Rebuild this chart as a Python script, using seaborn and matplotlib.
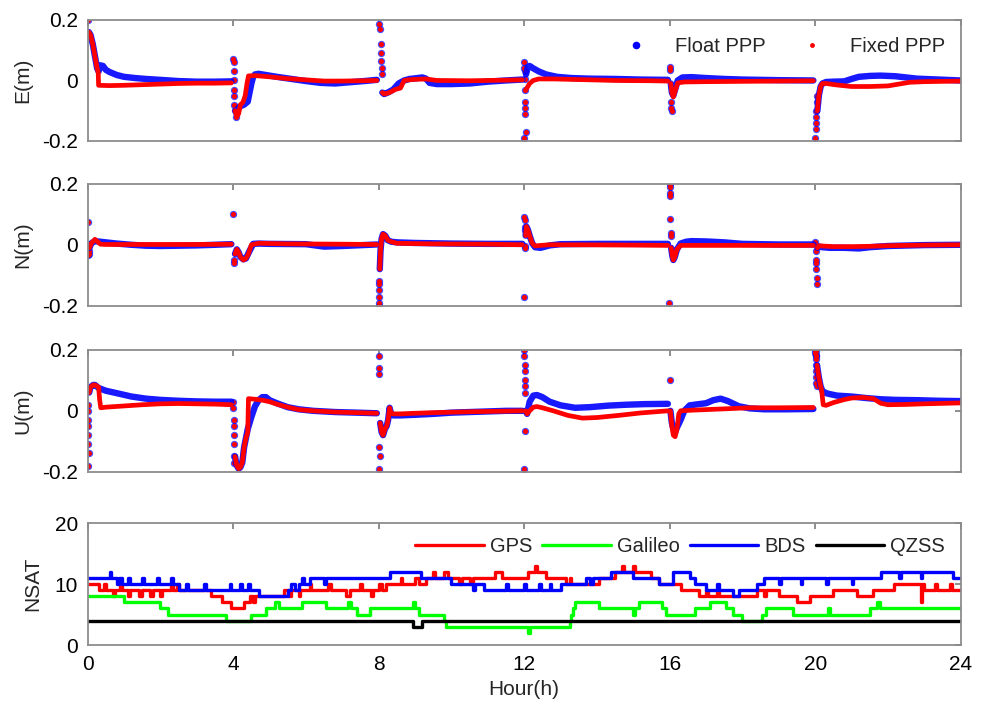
import numpy as np
import pandas as pd
import matplotlib
matplotlib.use("Agg")
import matplotlib.pyplot as plt
from matplotlib.lines import Line2D
import seaborn as sns

# ---------------- positioning errors (m), hours of day ----------------
# East
E_FLOAT_T = [0.03, 0.08, 0.14, 0.2, 0.26, 0.3, 0.35, 0.42, 0.5, 0.6, 0.8, 1.0, 1.3, 1.6, 2.0, 2.5, 3.0, 3.5, 3.95,
             4.05, 4.1, 4.15, 4.2, 4.3, 4.4, 4.45, 4.5, 4.55, 4.6, 4.7, 4.9, 5.2, 5.6, 6.0, 6.4, 6.8, 7.2, 7.6, 7.95,
             8.1, 8.15, 8.25, 8.4, 8.55, 8.7, 8.85, 9.0, 9.2, 9.3, 9.4, 9.6, 10.0, 10.5, 11.0, 11.5, 11.95,
             12.05, 12.1, 12.15, 12.25, 12.4, 12.6, 12.9, 13.3, 13.8, 14.5, 15.2, 15.95,
             16.03, 16.06, 16.1, 16.15, 16.22, 16.35, 16.6, 17.0, 17.5, 18.0, 19.0, 19.95,
             20.06, 20.1, 20.15, 20.2, 20.3, 20.5, 20.8, 21.0, 21.2, 21.5, 21.8, 22.2, 22.5, 22.8, 23.2, 23.6, 24.0]
E_FLOAT_V = [0.16, 0.15, 0.12, 0.08, 0.04, 0.03, 0.05, 0.048, 0.035, 0.028, 0.018, 0.012, 0.008, 0.005, 0.002, -0.002, -0.004, -0.004, -0.003,
             -0.1, -0.11, -0.09, -0.085, -0.08, -0.07, -0.04, -0.01, 0.012, 0.02, 0.022, 0.018, 0.012, 0.005, -0.002, -0.008, -0.01, -0.006, -0.002, 0.002,
             -0.04, -0.045, -0.04, -0.03, -0.01, 0.0, 0.005, 0.007, 0.01, 0.006, -0.008, -0.012, -0.012, -0.01, -0.004, 0.0, 0.003,
             0.02, 0.045, 0.048, 0.04, 0.03, 0.02, 0.012, 0.008, 0.006, 0.005, 0.003, 0.002,
             -0.01, -0.04, -0.05, -0.03, 0.0, 0.01, 0.011, 0.008, 0.005, 0.003, 0.001, 0.0,
             -0.1, -0.05, -0.02, -0.01, -0.005, -0.004, -0.003, 0.005, 0.012, 0.015, 0.016, 0.014, 0.01, 0.006, 0.004, 0.002, 0.0]
E_FIXED_T = [0.03, 0.08, 0.14, 0.2, 0.26, 0.29, 0.3, 0.6, 1.0, 1.5, 2.0, 2.5, 3.0, 3.5, 3.95,
             4.05, 4.1, 4.15, 4.2, 4.27, 4.33, 4.38, 4.42, 4.6, 5.0, 5.5, 6.0, 6.5, 7.0, 7.5, 7.95,
             8.1, 8.15, 8.3, 8.45, 8.6, 8.7, 8.9, 9.3, 9.6, 10.5, 11.0, 11.95,
             12.05, 12.1, 12.15, 12.25, 12.4, 12.8, 13.5, 14.5, 15.5, 15.95,
             16.03, 16.06, 16.1, 16.15, 16.22, 16.4, 17.0, 18.0, 19.0, 19.95,
             20.06, 20.1, 20.15, 20.2, 20.3, 20.6, 21.0, 21.5, 22.0, 22.3, 22.6, 23.0, 23.5, 24.0]
E_FIXED_V = [0.16, 0.15, 0.12, 0.08, 0.04, 0.025, -0.016, -0.017, -0.016, -0.014, -0.012, -0.01, -0.009, -0.009, -0.008,
             -0.1, -0.12, -0.11, -0.08, -0.072, -0.05, -0.01, 0.015, 0.016, 0.012, 0.006, 0.002, -0.002, -0.002, -0.001, 0.0,
             -0.04, -0.045, -0.04, -0.03, -0.025, 0.0, 0.003, 0.005, 0.0, -0.001, 0.0, 0.002,
             -0.03, -0.02, -0.01, 0.0, 0.005, 0.005, 0.003, 0.0, -0.001, -0.002,
             -0.01, -0.04, -0.055, -0.035, -0.008, -0.005, -0.004, -0.003, -0.002, -0.001,
             -0.1, -0.05, -0.02, -0.01, -0.01, -0.015, -0.02, -0.02, -0.018, -0.012, -0.006, -0.004, -0.003, -0.002]
E_SPIKE_T = [0.0, 4.0, 4.01, 4.01, 4.02, 4.02, 4.03, 4.03, 4.08,
             8.0, 8.03, 8.05, 8.05, 8.06, 8.08, 8.09,
             11.99, 12.0, 12.01, 12.01, 12.02, 12.02, 12.03, 12.03, 12.04, 12.0,
             16.01, 16.02, 16.03, 16.04, 16.05,
             20.0, 20.01, 20.02, 20.03, 20.03, 20.04, 20.05]
E_SPIKE_V = [0.2, 0.07, 0.06, 0.03, 0.0, -0.03, -0.05, -0.08, -0.12,
             0.185, 0.17, 0.12, 0.09, 0.065, 0.04, 0.02,
             0.06, 0.04, 0.03, 0.005, -0.03, -0.07, -0.09, -0.11, -0.17, -0.19,
             0.045, 0.035, -0.07, -0.09, -0.1,
             -0.19, -0.16, -0.14, -0.12, -0.1, -0.07, -0.05]

# North
N_FLOAT_T = [0.05, 0.1, 0.2, 0.35, 0.5, 0.8, 1.2, 1.6, 2.0, 2.5, 3.0, 3.5, 3.95,
             4.05, 4.1, 4.15, 4.2, 4.28, 4.35, 4.45, 4.55, 4.7, 5.0, 6.0, 6.5, 7.0, 7.95,
             8.03, 8.05, 8.08, 8.12, 8.18, 8.25, 8.35, 8.5, 9.0, 10.0, 11.0, 11.95,
             12.04, 12.06, 12.1, 12.15, 12.22, 12.3, 12.45, 12.7, 13.0, 14.0, 15.0, 15.95,
             16.04, 16.07, 16.1, 16.14, 16.2, 16.3, 16.45, 16.6, 17.0, 17.5, 18.0, 19.0, 19.95,
             20.06, 20.1, 20.2, 20.4, 20.8, 21.2, 21.5, 22.0, 23.0, 24.0]
N_FLOAT_V = [-0.01, 0.005, 0.012, 0.01, 0.008, 0.004, 0.0, -0.003, -0.004, -0.003, -0.002, 0.0, 0.002,
             -0.03, -0.015, -0.025, -0.04, -0.048, -0.045, -0.02, 0.003, 0.004, 0.003, 0.002, -0.006, -0.004, 0.001,
             -0.08, -0.02, 0.02, 0.035, 0.03, 0.015, 0.01, 0.008, 0.006, 0.004, 0.003, 0.003,
             0.03, 0.06, 0.05, 0.03, 0.005, -0.008, -0.01, -0.002, 0.002, 0.003, 0.003, 0.003,
             -0.01, -0.035, -0.05, -0.04, -0.015, 0.004, 0.01, 0.012, 0.011, 0.008, 0.003, 0.001, 0.001,
             -0.01, -0.006, -0.008, -0.01, -0.01, -0.012, -0.008, -0.004, -0.001, 0.0]
N_FIXED_T = [0.05, 0.1, 0.2, 0.35, 0.5, 1.0, 2.0, 3.0, 3.95,
             4.05, 4.1, 4.15, 4.2, 4.28, 4.35, 4.42, 4.5, 4.7, 5.5, 7.0, 7.95,
             8.03, 8.05, 8.08, 8.12, 8.18, 8.25, 8.35, 8.5, 9.5, 11.0, 11.95,
             12.04, 12.06, 12.1, 12.15, 12.22, 12.3, 12.45, 12.7, 13.5, 15.0, 15.95,
             16.04, 16.07, 16.1, 16.14, 16.2, 16.3, 16.6, 17.5, 18.5, 19.95,
             20.06, 20.1, 20.2, 20.5, 21.0, 21.5, 22.0, 23.0, 24.0]
N_FIXED_V = [-0.01, 0.005, 0.018, 0.002, 0.001, 0.001, 0.001, 0.001, 0.002,
             -0.03, -0.015, -0.025, -0.04, -0.05, -0.045, -0.03, 0.0, 0.005, 0.003, 0.002, 0.001,
             -0.08, -0.02, 0.02, 0.035, 0.03, 0.015, 0.01, 0.005, 0.003, 0.002, 0.0,
             0.03, 0.06, 0.05, 0.03, 0.005, -0.004, -0.002, 0.0, 0.0, -0.001, -0.002,
             -0.01, -0.035, -0.05, -0.04, -0.015, -0.002, -0.002, -0.002, -0.002, -0.002,
             -0.01, -0.003, -0.004, -0.006, -0.006, -0.005, -0.003, -0.001, 0.0]
N_SPIKE_T = [0.0, 0.02, 0.03, 0.04,
             4.0, 4.02, 4.03,
             8.0, 8.0, 8.01, 8.01, 8.02, 8.02,
             12.0, 12.01, 12.02, 12.03, 12.02, 12.03, 12.0,
             16.0, 16.0, 16.01, 16.02, 16.02, 16.03, 16.03, 15.99,
             20.0, 20.01, 20.02, 20.02, 20.03, 20.04, 20.05]
N_SPIKE_V = [0.075, -0.035, -0.03, -0.02,
             0.1, -0.06, -0.05,
             -0.2, -0.19, -0.17, -0.15, -0.13, -0.12,
             0.09, 0.08, 0.06, 0.05, -0.01, -0.005, -0.17,
             0.2, 0.19, 0.17, 0.16, 0.085, 0.04, 0.03, -0.19,
             0.01, -0.02, -0.05, -0.06, -0.08, -0.11, -0.13]

# Up
U_FLOAT_T = [0.04, 0.07, 0.1, 0.15, 0.2, 0.3, 0.5, 0.8, 1.2, 1.6, 2.0, 2.5, 3.0, 3.5, 3.95,
             4.05, 4.1, 4.15, 4.2, 4.25, 4.3, 4.4, 4.5, 4.6, 4.7, 4.8, 4.9, 5.0, 5.2, 5.5, 5.8, 6.2, 6.8, 7.4, 7.95,
             8.04, 8.08, 8.12, 8.17, 8.22, 8.26, 8.3, 8.34, 8.4, 8.6, 9.0, 9.5, 10.0, 10.5, 11.0, 11.5, 11.95,
             12.04, 12.08, 12.15, 12.25, 12.35, 12.5, 12.7, 13.0, 13.4, 13.8, 14.3, 14.8, 15.3, 15.95,
             16.02, 16.06, 16.1, 16.15, 16.2, 16.3, 16.4, 16.55, 16.8, 17.0, 17.2, 17.4, 17.6, 17.9, 18.2, 18.6, 19.2, 19.95,
             20.05, 20.1, 20.15, 20.2, 20.3, 20.4, 20.6, 21.0, 21.4, 21.8, 22.2, 22.8, 23.4, 24.0]
U_FLOAT_V = [0.06, 0.075, 0.08, 0.085, 0.085, 0.075, 0.066, 0.058, 0.047, 0.04, 0.036, 0.033, 0.031, 0.03, 0.03,
             -0.15, -0.18, -0.19, -0.185, -0.17, -0.12, -0.06, -0.02, 0.015, 0.035, 0.045, 0.045, 0.035, 0.025, 0.012, 0.005, 0.0, -0.004, -0.006, -0.008,
             -0.04, -0.07, -0.08, -0.06, -0.05, -0.03, 0.01, -0.01, -0.015, -0.015, -0.013, -0.01, -0.006, -0.004, -0.002, 0.0, 0.0,
             0.0, -0.01, 0.03, 0.05, 0.052, 0.045, 0.03, 0.018, 0.01, 0.012, 0.017, 0.02, 0.022, 0.023,
             0.0, -0.04, -0.06, -0.07, -0.055, -0.03, 0.0, 0.018, 0.022, 0.025, 0.035, 0.04, 0.032, 0.015, 0.008, 0.005, 0.005, 0.006,
             0.15, 0.11, 0.08, 0.065, 0.058, 0.055, 0.05, 0.047, 0.042, 0.038, 0.036, 0.035, 0.033, 0.032]
U_FIXED_T = [0.04, 0.07, 0.1, 0.15, 0.2, 0.3, 0.33, 0.36, 0.5, 1.0, 1.5, 2.0, 2.5, 3.0, 3.5, 3.95,
             4.05, 4.1, 4.15, 4.2, 4.25, 4.3, 4.35, 4.4, 4.42, 4.6, 4.8, 5.0, 5.2, 5.5, 5.8, 6.2, 6.8, 7.4, 7.95,
             8.04, 8.08, 8.12, 8.17, 8.22, 8.26, 8.3, 8.34, 8.4, 8.6, 9.0, 9.5, 10.5, 11.5, 11.95,
             12.04, 12.08, 12.15, 12.25, 12.35, 12.5, 12.8, 13.2, 13.6, 14.0, 14.6, 15.2, 15.95,
             16.02, 16.06, 16.1, 16.15, 16.2, 16.25, 16.3, 16.6, 17.0, 17.6, 18.2, 19.0, 19.95,
             20.05, 20.1, 20.15, 20.18, 20.22, 20.3, 20.5, 20.8, 21.0, 21.3, 21.6, 21.8, 22.0, 22.5, 23.0, 24.0]
U_FIXED_V = [0.06, 0.075, 0.08, 0.085, 0.085, 0.078, 0.035, 0.01, 0.012, 0.016, 0.02, 0.023, 0.024, 0.023, 0.022, 0.02,
             -0.15, -0.18, -0.19, -0.185, -0.17, -0.12, -0.09, -0.07, 0.04, 0.038, 0.035, 0.03, 0.022, 0.012, 0.004, 0.0, -0.004, -0.006, -0.008,
             -0.04, -0.07, -0.08, -0.06, -0.05, -0.03, 0.01, -0.008, -0.01, -0.01, -0.008, -0.006, -0.003, -0.001, 0.0,
             0.0, -0.01, 0.0, 0.012, 0.014, 0.01, 0.0, -0.015, -0.024, -0.022, -0.015, -0.007, 0.0,
             0.0, -0.05, -0.08, -0.085, -0.06, -0.01, 0.0, 0.002, 0.004, 0.007, 0.01, 0.01, 0.011,
             0.15, 0.11, 0.08, 0.065, 0.02, 0.018, 0.027, 0.037, 0.042, 0.044, 0.04, 0.025, 0.02, 0.021, 0.023, 0.026]
U_SPIKE_T = [0.0, 0.0, 0.01, 0.01, 0.02, 0.02, 0.03, 0.01,
             4.0, 4.0, 4.01, 4.01, 4.02, 4.02, 4.03, 4.03,
             8.0, 8.0, 8.01, 8.02, 8.03, 8.01,
             12.0, 12.0, 12.01, 12.01, 12.02, 12.02, 12.03, 12.03, 12.0,
             16.0,
             20.0, 20.0, 20.01, 20.01, 20.02, 20.02, 20.03, 20.03, 20.04, 20.02, 20.03]
U_SPIKE_V = [0.02, 0.0, -0.03, -0.05, -0.08, -0.11, -0.14, -0.18,
             0.03, 0.01, -0.03, -0.05, -0.08, -0.11, -0.15, -0.17,
             0.18, 0.14, 0.12, -0.12, -0.15, -0.19,
             0.2, 0.18, 0.15, 0.13, 0.1, 0.08, 0.06, -0.065, -0.19,
             0.1,
             0.2, 0.19, 0.18, 0.17, 0.15, 0.13, 0.11, 0.09, 0.08, 0.195, 0.185]

# ---------------- number of satellites (change points) ----------------
GPS_T = [0, 0.3, 0.45, 0.5, 0.7, 0.75, 0.9, 0.95, 1.1, 1.15, 1.4, 1.5, 1.7, 1.8, 2.0, 2.05, 2.3, 2.35, 2.45, 2.5,
         3.4, 3.7, 3.95, 4.3, 4.45, 4.55, 4.6, 5.4, 5.5, 5.6, 5.8, 5.85, 6.1, 6.15, 6.6, 6.7, 7.1, 7.2, 7.5, 7.55,
         7.8, 7.85, 8.0, 8.1, 8.2, 8.6, 8.65, 9.0, 9.1, 9.3, 9.5, 9.55, 9.8, 9.9, 10.2, 10.3, 10.5, 10.6,
         11.2, 11.4, 12.1, 12.3, 12.35, 12.6, 13.15, 13.25, 13.3, 13.5, 14.07, 14.5, 14.7, 14.75, 15.0, 15.05,
         15.5, 15.7, 16.3, 16.8, 17.0, 17.05, 17.3, 17.35, 18.4, 18.6, 18.65, 19.0, 19.5, 19.86, 20.5, 21.15,
         21.6, 22.16, 22.9, 22.95, 23.0, 23.3, 23.35, 23.7, 23.75, 24.0]
GPS_N = [10, 9, 10, 9, 8, 9, 10, 9, 8, 9, 8, 9, 8, 9, 8, 9, 10, 9, 10, 9,
         8, 7, 6, 7, 8, 7, 8, 9, 8, 9, 8, 9, 10, 9, 10, 9, 8, 9, 10, 9,
         8, 9, 10, 9, 10, 11, 10, 11, 10, 11, 12, 11, 12, 11, 10, 11, 10, 11,
         12, 11, 12, 13, 12, 11, 10, 11, 10, 10, 11, 12, 13, 12, 13, 12,
         11, 10, 9, 8, 9, 8, 9, 8, 9, 8, 9, 8, 7, 8, 9, 8,
         9, 10, 7, 10, 9, 10, 9, 10, 9, 9]
GAL_T = [0, 1.0, 2.0, 2.2, 3.8, 4.5, 4.9, 5.15, 5.25, 5.9, 6.55, 7.15, 7.25, 7.4, 7.75, 8.95, 9.0, 9.1, 9.8, 9.85,
         12.1, 12.15, 13.25, 13.3, 13.35, 13.4, 14.07, 15.0, 15.05, 15.15, 15.8, 15.9, 16.7, 17.1, 17.55, 17.75,
         18.0, 18.55, 18.65, 19.4, 20.35, 20.42, 21.5, 21.7, 21.78, 24.0]
GAL_N = [8, 7, 6, 5, 4, 5, 6, 7, 6, 7, 6, 7, 6, 5, 6, 7, 6, 5, 4, 3,
         2, 3, 4, 5, 6, 7, 6, 5, 6, 7, 6, 5, 6, 7, 6, 5,
         4, 5, 6, 5, 6, 5, 6, 7, 6, 6]
BDS_T = [0, 0.6, 0.65, 0.8, 0.85, 0.95, 1.1, 1.15, 1.5, 1.55, 1.9, 1.95, 2.3, 2.35, 2.5, 2.7, 2.75, 3.2, 3.25,
         3.9, 3.95, 4.2, 4.25, 4.4, 4.45, 4.7, 5.5, 5.6, 5.7, 5.8, 5.9, 5.95, 6.1, 6.5, 6.55, 8.3, 9.15, 10.0,
         10.6, 10.65, 10.9, 11.5, 11.55, 12.0, 12.05, 12.4, 12.45, 12.7, 12.75, 13.0, 13.7, 13.8, 13.9, 14.4,
         15.0, 15.7, 16.1, 16.55, 16.7, 17.0, 17.3, 17.35, 17.75, 17.9, 18.4, 18.6, 19.0, 19.05, 19.6, 19.65,
         20.3, 20.35, 21.0, 21.05, 21.8, 22.3, 22.35, 22.9, 22.95, 23.8, 24.0]
BDS_N = [11, 12, 11, 10, 11, 10, 11, 10, 11, 10, 11, 10, 11, 10, 9, 10, 9, 10, 9,
         10, 9, 10, 9, 10, 9, 8, 9, 10, 9, 10, 11, 10, 11, 10, 11, 12, 11, 10,
         9, 10, 9, 10, 9, 10, 9, 10, 9, 10, 9, 10, 11, 10, 11, 12,
         11, 10, 12, 11, 10, 9, 10, 9, 8, 9, 10, 11, 10, 11, 10, 11,
         10, 11, 10, 11, 12, 11, 12, 11, 12, 11, 11]
QZS_T = [0, 8.95, 9.2, 24.0]
QZS_N = [4, 3, 4, 4]

HOUR_TICKS = [0, 4, 8, 12, 16, 20, 24]
ENU_TICKS = [-0.2, 0, 0.2]
ENU_TICKLABELS = ["-0.2", "0", "0.2"]
NSAT_TICKS = [0, 10, 20]
NSAT_TICKLABELS = ["0", "10", "20"]

# ---------------- style ----------------
sns.set_theme(style="white")
plt.rcParams["font.family"] = ["Liberation Sans", "DejaVu Sans"]
plt.rcParams["axes.edgecolor"] = "#8c8c8c"
plt.rcParams["axes.linewidth"] = 1.3

BLUE = "#0000ff"
RED = "#ff0000"
GREEN = "#00ff00"
FS = 15

fig = plt.figure(figsize=(9.83, 7.12), dpi=100)
LEFT, WIDTH = 0.0892, 0.8881
panel_boxes = [(0.802, 0.170), (0.5707, 0.171), (0.3375, 0.171), (0.0941, 0.171)]
axes = [fig.add_axes([LEFT, b, WIDTH, h]) for b, h in panel_boxes]


def arc_frame(t, v):
    t = np.asarray(t, float)
    return pd.DataFrame({"t": t, "v": np.asarray(v, float),
                         "arc": np.minimum(t // 4, 5).astype(int)})


def style_axis(ax, yticks, yticklabels, ylim):
    ax.set_xlim(0, 24)
    ax.set_ylim(*ylim)
    ax.set_xticks(HOUR_TICKS)
    ax.set_yticks(yticks)
    ax.set_yticklabels(yticklabels)
    ax.tick_params(direction="in", length=4.5, width=1.1, color="#6f6f6f",
                   top=True, right=True, labelsize=FS, labelcolor="black", pad=7)
    for sp in ax.spines.values():
        sp.set_visible(True)
        sp.set_color("#8c8c8c")


enu = [("E(m)", E_FLOAT_T, E_FLOAT_V, E_FIXED_T, E_FIXED_V, E_SPIKE_T, E_SPIKE_V),
       ("N(m)", N_FLOAT_T, N_FLOAT_V, N_FIXED_T, N_FIXED_V, N_SPIKE_T, N_SPIKE_V),
       ("U(m)", U_FLOAT_T, U_FLOAT_V, U_FIXED_T, U_FIXED_V, U_SPIKE_T, U_SPIKE_V)]

for ax, (lab, ft, fv, xt, xv, st, sv) in zip(axes[:3], enu):
    sns.lineplot(data=arc_frame(ft, fv), x="t", y="v", units="arc", estimator=None,
                 sort=False, color=BLUE, lw=4.6, alpha=0.9, legend=False, ax=ax,
                 solid_capstyle="round", solid_joinstyle="round")
    sns.lineplot(data=arc_frame(xt, xv), x="t", y="v", units="arc", estimator=None,
                 sort=False, color=RED, lw=3.4, legend=False, ax=ax,
                 solid_capstyle="round", solid_joinstyle="round")
    sns.scatterplot(x=st, y=sv, color=BLUE, s=28, linewidth=0, alpha=0.7, ax=ax, legend=False)
    sns.scatterplot(x=st, y=sv, color=RED, s=13, linewidth=0, ax=ax, legend=False)
    style_axis(ax, ENU_TICKS, ENU_TICKLABELS, (-0.2, 0.2))
    ax.set_xticklabels([])
    ax.set_xlabel("")
    ax.set_ylabel(lab, fontsize=FS)
    ax.yaxis.set_label_coords(-0.063, 0.5)

handles = [Line2D([], [], ls="", marker="o", ms=5.5, color=BLUE, mec="none", label="Float PPP"),
           Line2D([], [], ls="", marker="o", ms=3.5, color=RED, mec="none", label="Fixed PPP")]
axes[0].legend(handles=handles, loc="center right", bbox_to_anchor=(0.982, 0.777), ncol=2,
               frameon=False, fontsize=FS - 0.5, handlelength=2.0, handletextpad=0.9,
               columnspacing=1.3, borderpad=0, borderaxespad=0)

# satellite counts
ax = axes[3]
nsat = [("GPS", GPS_T, GPS_N, RED), ("Galileo", GAL_T, GAL_N, GREEN),
        ("BDS", BDS_T, BDS_N, BLUE), ("QZSS", QZS_T, QZS_N, "black")]
for name, t, n, c in nsat:
    sns.lineplot(x=t, y=n, estimator=None, sort=False, drawstyle="steps-post",
                 color=c, lw=2.4, ax=ax, label=name)
style_axis(ax, NSAT_TICKS, NSAT_TICKLABELS, (0, 20))
ax.set_ylabel("NSAT", fontsize=FS)
ax.yaxis.set_label_coords(-0.052, 0.5)
ax.set_xlabel("Hour(h)", fontsize=FS)
ax.xaxis.set_label_coords(0.5, -0.29)
ax.legend(loc="center right", bbox_to_anchor=(0.982, 0.808), ncol=4, frameon=False,
          fontsize=FS - 0.5, handlelength=3.4, handletextpad=0.3, columnspacing=0.5,
          borderpad=0, borderaxespad=0)

fig.savefig("out.png", dpi=100, facecolor="white")
